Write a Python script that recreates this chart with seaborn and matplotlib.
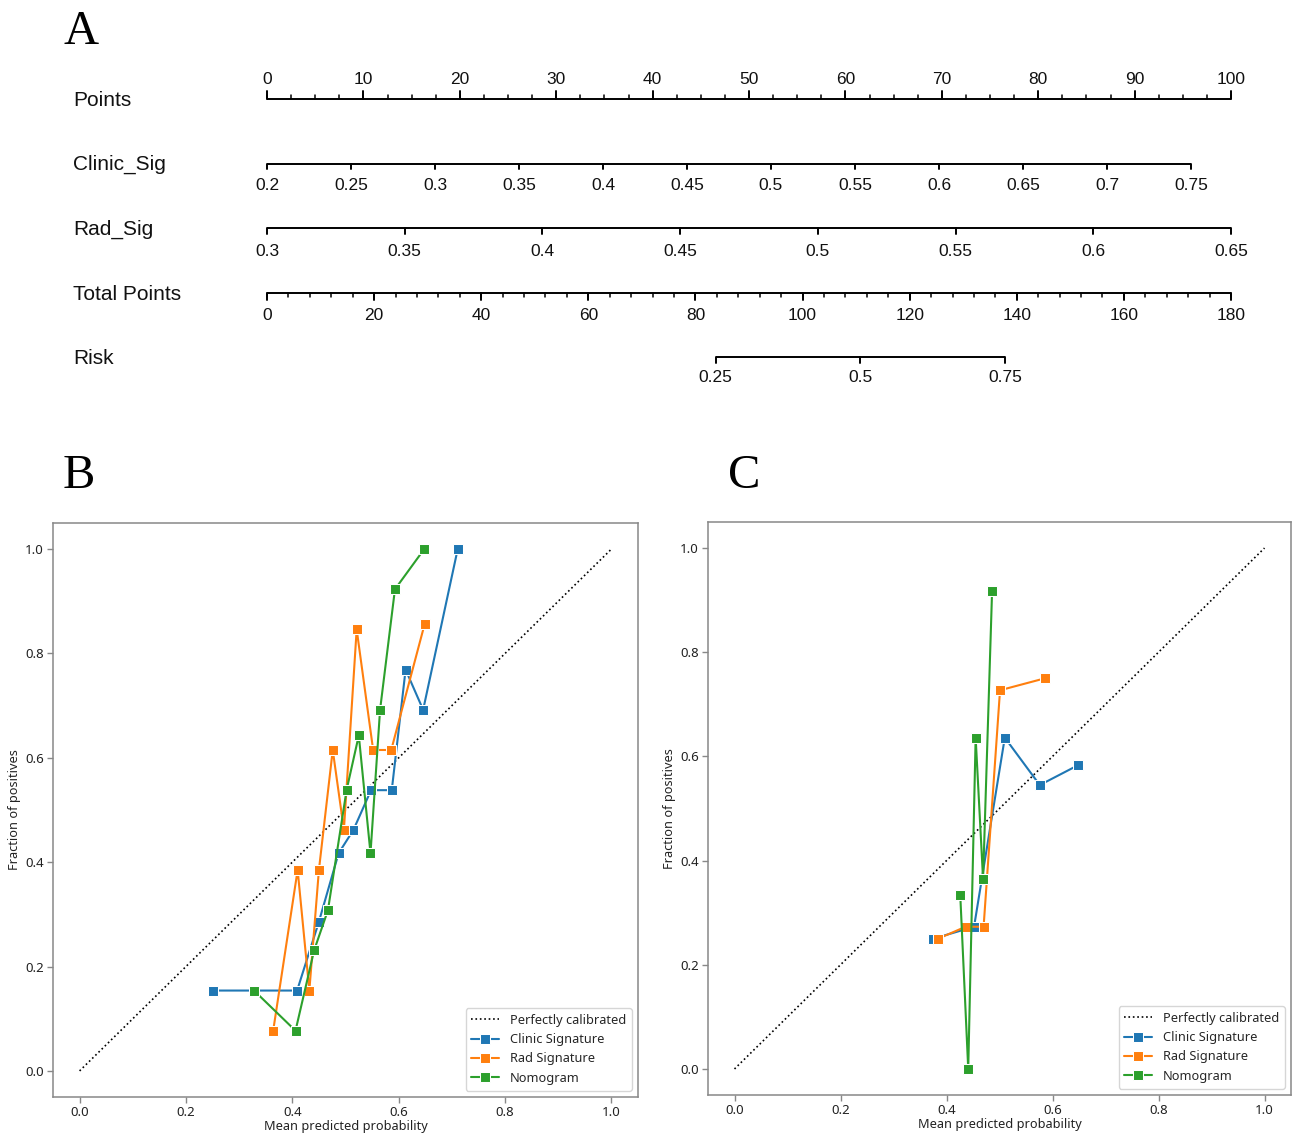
import numpy as np
import pandas as pd
import matplotlib
matplotlib.use("Agg")
import matplotlib.pyplot as plt
import seaborn as sns

# ---- panel A: nomogram scales
points_major = [0, 10, 20, 30, 40, 50, 60, 70, 80, 90, 100]
points_minor = np.arange(0, 100.1, 2.5)

clinic_values = [0.2, 0.25, 0.3, 0.35, 0.4, 0.45, 0.5, 0.55, 0.6, 0.65, 0.7, 0.75]
clinic_labels = ["0.2", "0.25", "0.3", "0.35", "0.4", "0.45", "0.5", "0.55", "0.6", "0.65", "0.7", "0.75"]
clinic_range = (0.2, 0.75)
clinic_points_max = 95.85

rad_values = [0.3, 0.35, 0.4, 0.45, 0.5, 0.55, 0.6, 0.65]
rad_labels = ["0.3", "0.35", "0.4", "0.45", "0.5", "0.55", "0.6", "0.65"]
rad_range = (0.3, 0.65)

total_major = [0, 20, 40, 60, 80, 100, 120, 140, 160, 180]
total_minor = np.arange(0, 180.1, 4)
total_max = 180

risk_labels = ["0.25", "0.5", "0.75"]
risk_total_points = [83.8, 110.8, 137.8]

# ---- panel B: calibration (training)
b_clinic_x = [0.250, 0.409, 0.450, 0.487, 0.515, 0.548, 0.587, 0.613, 0.646, 0.711]
b_clinic_y = [0.154, 0.154, 0.286, 0.417, 0.462, 0.538, 0.538, 0.769, 0.692, 1.000]
b_rad_x = [0.364, 0.410, 0.432, 0.450, 0.476, 0.497, 0.521, 0.552, 0.586, 0.649]
b_rad_y = [0.077, 0.385, 0.154, 0.385, 0.615, 0.462, 0.846, 0.615, 0.615, 0.857]
b_nomo_x = [0.328, 0.406, 0.441, 0.467, 0.502, 0.525, 0.547, 0.565, 0.593, 0.648]
b_nomo_y = [0.154, 0.077, 0.231, 0.308, 0.538, 0.643, 0.417, 0.692, 0.923, 1.000]

# ---- panel C: calibration (validation)
c_clinic_x = [0.375, 0.452, 0.510, 0.576, 0.648]
c_clinic_y = [0.250, 0.273, 0.636, 0.545, 0.583]
c_rad_x = [0.384, 0.436, 0.470, 0.501, 0.586]
c_rad_y = [0.250, 0.273, 0.273, 0.727, 0.750]
c_nomo_x = [0.426, 0.441, 0.455, 0.469, 0.486]
c_nomo_y = [0.333, 0.000, 0.636, 0.364, 0.917]

series_names = ["Clinic Signature", "Rad Signature", "Nomogram"]
palette = ["#1f77b4", "#ff7f0e", "#2ca02c"]

sns.set_theme(style="ticks")
plt.rcParams["font.family"] = ["Noto Sans", "DejaVu Sans"]

fig = plt.figure(figsize=(12.92, 11.33), dpi=100)
W, H = 1292, 1133

# ---------------- Panel A ----------------
px_per_point = 9.64
ax_a = fig.add_axes([0, 1 - 420 / H, 1, 420 / H])
ax_a.set_xlim(-267 / px_per_point, (W - 267) / px_per_point)
ax_a.set_ylim(420, 0)
ax_a.axis("off")

nomo_font = ["Liberation Sans", "DejaVu Sans"]
lab_x = (73 - 267) / px_per_point


def draw_scale(ax, y, start, end, ticks, labels, up, major_len, minor=None, minor_len=0, label_off=0):
    ax.plot([start, end], [y, y], color="black", lw=1.4, solid_capstyle="butt")
    sgn = -1 if up else 1
    for t in ticks:
        ax.plot([t, t], [y, y + sgn * major_len], color="black", lw=1.4)
    if minor is not None:
        for t in minor:
            ax.plot([t, t], [y, y + sgn * minor_len], color="black", lw=1.1)
    for t, s in zip(ticks, labels):
        ax.text(t, y + sgn * label_off, s, ha="center", va="center",
                fontsize=12.5, family=nomo_font, color="#111111")


def row_label(ax, y, s):
    ax.text(lab_x, y, s, ha="left", va="center", fontsize=15, family=nomo_font, color="#111111")


# Points
draw_scale(ax_a, 99, 0, 100, points_major, [str(v) for v in points_major], True, 8,
           minor=points_minor, minor_len=4, label_off=19)
row_label(ax_a, 101, "Points")

# Clinic_Sig
clin_pos = [(v - clinic_range[0]) / (clinic_range[1] - clinic_range[0]) * clinic_points_max for v in clinic_values]
draw_scale(ax_a, 164, clin_pos[0], clin_pos[-1], clin_pos, clinic_labels, False, 5, label_off=22)
row_label(ax_a, 164, "Clinic_Sig")

# Rad_Sig
rad_pos = [(v - rad_range[0]) / (rad_range[1] - rad_range[0]) * 100 for v in rad_values]
draw_scale(ax_a, 228, rad_pos[0], rad_pos[-1], rad_pos, rad_labels, False, 6, label_off=23)
row_label(ax_a, 229, "Rad_Sig")

# Total Points
tot_pos = [v / total_max * 100 for v in total_major]
tot_minor_pos = [v / total_max * 100 for v in total_minor]
draw_scale(ax_a, 293, 0, 100, tot_pos, [str(v) for v in total_major], False, 7,
           minor=tot_minor_pos, minor_len=4, label_off=22)
row_label(ax_a, 294, "Total Points")

# Risk
risk_pos = [v / total_max * 100 for v in risk_total_points]
draw_scale(ax_a, 357, risk_pos[0], risk_pos[-1], risk_pos, risk_labels, False, 6, label_off=21)
row_label(ax_a, 359, "Risk")

# panel letters
letter_font = ["Liberation Serif", "DejaVu Serif"]
fig.text(63 / W, 1 - 44 / H, "A", fontsize=35, family=letter_font, color="black", va="baseline")
fig.text(63 / W, 1 - 488 / H, "B", fontsize=35, family=letter_font, color="black", va="baseline")
fig.text(728 / W, 1 - 488 / H, "C", fontsize=35, family=letter_font, color="black", va="baseline")


# ---------------- Panels B & C ----------------
def calib_frame(xs, ys):
    rows = []
    for name, x, y in zip(series_names, xs, ys):
        for xi, yi in zip(x, y):
            rows.append({"model": name, "pred": xi, "frac": yi})
    return pd.DataFrame(rows)


def draw_calibration(ax, df):
    ax.plot([0, 1], [0, 1], ls=":", color="black", lw=1.2, label="Perfectly calibrated")
    sns.lineplot(data=df, x="pred", y="frac", hue="model", hue_order=series_names,
                 palette=palette, marker="s", markersize=7, lw=1.5, sort=False,
                 estimator=None, ax=ax)
    ax.set_xticks([0.0, 0.2, 0.4, 0.6, 0.8, 1.0])
    ax.set_yticks([0.0, 0.2, 0.4, 0.6, 0.8, 1.0])
    ax.set_xlabel("Mean predicted probability", fontsize=9.2, color="#222222", labelpad=1)
    ax.set_ylabel("Fraction of positives", fontsize=9.2, color="#222222", labelpad=3)
    ax.tick_params(labelsize=9.5, colors="#222222", length=4, width=1, color="#888888", pad=2.5)
    for sp in ax.spines.values():
        sp.set_visible(True)
        sp.set_color("#888888")
        sp.set_linewidth(1.1)
    ax.margins(0.05)
    handles, labels = ax.get_legend_handles_labels()
    ax.legend(handles, labels, loc="lower right", fontsize=9.2, frameon=True,
              edgecolor="#cccccc", handlelength=2.2, borderpad=0.45, labelspacing=0.5)


ax_b = fig.add_axes([53 / W, 1 - 1097 / H, (638 - 53) / W, (1097 - 523) / H])
draw_calibration(ax_b, calib_frame([b_clinic_x, b_rad_x, b_nomo_x], [b_clinic_y, b_rad_y, b_nomo_y]))

ax_c = fig.add_axes([708 / W, 1 - 1095 / H, (1291 - 708) / W, (1095 - 522) / H])
draw_calibration(ax_c, calib_frame([c_clinic_x, c_rad_x, c_nomo_x], [c_clinic_y, c_rad_y, c_nomo_y]))

fig.savefig("out.png", dpi=100)
